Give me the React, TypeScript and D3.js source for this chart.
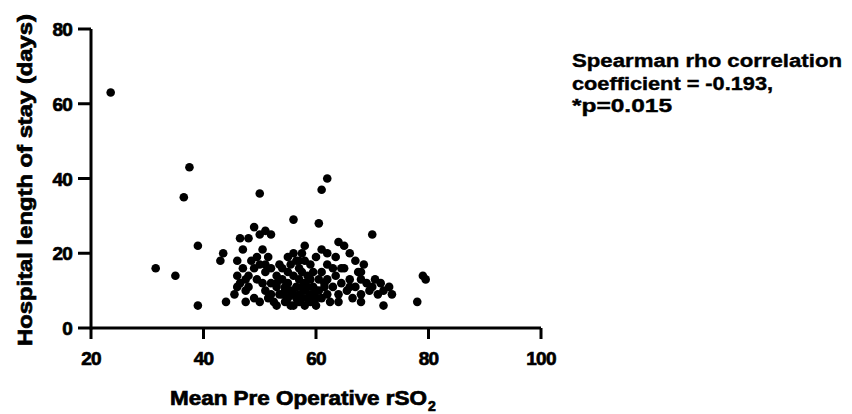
import React from 'react';
import * as d3 from 'd3';

// mean pre-operative rSO2 (%) vs hospital length of stay (days)
const rso2 = [
  23.5, 31.5, 35, 36.5, 37.5, 39, 39, 43, 43.5, 44,
  45.5, 46, 46, 46.5, 46.5, 47, 47, 47.5, 47.5, 48, 48, 48, 48.5, 49, 49, 49.5, 49.5,
  50, 50, 50, 50, 50.5, 50.5, 51, 51, 51, 51.5, 52, 52, 52, 52, 52.5, 53, 53, 53, 53.5,
  54, 54, 54, 54.5, 54.5, 55, 55, 55, 55.5, 55.5, 56, 56, 56, 56, 56.5, 56.5, 56.5,
  57, 57, 57, 57, 57.5, 57.5, 57.5, 58, 58, 58, 58, 58, 58.5, 58.5, 59, 59, 59, 59,
  59.5, 59.5, 60, 60, 60, 60.5, 60.5, 61, 61, 61, 61, 61.5, 62, 62, 62, 62, 62, 62.5,
  63, 63, 63.5, 63.5, 64, 64, 64, 64.5, 65, 65, 65.5, 66, 66, 66.5, 67, 67, 67.5,
  68, 68, 68.5, 69, 70, 70, 70.5, 71, 71.5, 72, 72, 73, 73.5, 78, 79, 79.5,
  46, 47.5, 51.5, 53.5, 54.5, 55.5, 56, 57.5, 58.5, 59.5, 60.5, 61.5, 64.5, 66, 68,
  68, 69.5, 55, 53, 57, 51, 49, 60,
];
const stay = [
  63, 16, 14, 35, 43, 22, 6, 18, 20, 7,
  9, 14, 18, 24, 12, 21, 16, 10, 7, 24, 14, 11, 18, 27, 8, 19, 13,
  36, 25, 17, 7, 21, 12, 26, 15, 10, 19, 25, 16, 12, 9, 7, 14, 11, 6, 17,
  13, 9, 16, 11, 7, 15, 12, 8, 17, 10, 29, 20, 14, 6, 18, 11, 8,
  16, 13, 9, 7, 20, 15, 11, 22, 18, 12, 10, 6, 14, 8, 17, 13, 9, 7,
  11, 15, 19, 10, 6, 28, 13, 37, 21, 15, 8, 11, 40, 20, 17, 13, 9, 7,
  16, 11, 19, 14, 23, 9, 7, 12, 22, 16, 10, 20, 13, 8, 18, 11, 15,
  9, 7, 17, 12, 25, 11, 13, 9, 12, 6, 10, 11, 9, 7, 14, 13,
  11, 13, 8, 9, 10, 6, 9, 8, 11, 9, 10, 12, 16, 11, 13,
  15, 10, 19, 12, 18, 17, 16, 8,
];

const xTicks = [20, 40, 60, 80, 100];
const yTicks = [0, 20, 40, 60, 80];

const note = ['Spearman rho correlation', 'coefficient = -0.193,', '*p=0.015'];
const noteWidths = [270, 201, 100];

const font = '"Liberation Sans", Arial, sans-serif';

export default function App() {
  const x = d3.scaleLinear().domain([20, 100]).range([91, 541]);
  const y = d3.scaleLinear().domain([0, 80]).range([328, 29]);
  const pts = rso2.map((v, i) => ({ x: v, y: stay[i] }));

  return (
    <div style={{ position: 'absolute', left: 0, top: 0 }}>
      <svg width={852} height={414} style={{ display: 'block', background: '#fff' }}>
        <g fontFamily={font} fontWeight="bold" fill="#000">
          {/* axes */}
          <line x1={x(20)} x2={x(100)} y1={y(0)} y2={y(0)} stroke="#000" strokeWidth={3} />
          <line x1={x(20)} x2={x(20)} y1={y(0) + 1.5} y2={y(80)} stroke="#000" strokeWidth={3} />
          {xTicks.map(t => (
            <g key={'x' + t}>
              <line x1={x(t)} x2={x(t)} y1={y(0)} y2={y(0) + 11} stroke="#000" strokeWidth={3} />
              <text x={x(t)} y={y(0) + 37} textAnchor="middle" fontSize={19} letterSpacing={-0.8}
                stroke="#000" strokeWidth={0.7}>{t}</text>
            </g>
          ))}
          {yTicks.map(t => (
            <g key={'y' + t}>
              <line x1={x(20) - 13} x2={x(20)} y1={y(t)} y2={y(t)} stroke="#000" strokeWidth={3} />
              <text x={x(20) - 19} y={y(t) + 7} textAnchor="end" fontSize={19} letterSpacing={-0.8}
                stroke="#000" strokeWidth={0.7}>{t}</text>
            </g>
          ))}

          {/* points */}
          {pts.map((p, i) => (
            <circle key={i} cx={x(p.x)} cy={y(p.y)} r={4.3} fill="#000" />
          ))}

          {/* axis titles */}
          <g stroke="#000" strokeWidth={0.7}>
            <text transform="translate(32,180) rotate(-90)" textAnchor="middle" fontSize={20}
              textLength={332} lengthAdjust="spacingAndGlyphs">Hospital length of stay (days)</text>
            <text x={170} y={405} fontSize={20} textLength={257} lengthAdjust="spacingAndGlyphs">Mean Pre Operative rSO</text>
            <text x={428} y={411} fontSize={14}>2</text>
          </g>

          {/* annotation */}
          {note.map((s, i) => (
            <text key={i} x={572} y={67 + i * 22.5} fontSize={18} stroke="#000" strokeWidth={0.4}
              textLength={noteWidths[i]} lengthAdjust="spacingAndGlyphs">{s}</text>
          ))}
        </g>
      </svg>
    </div>
  );
}
